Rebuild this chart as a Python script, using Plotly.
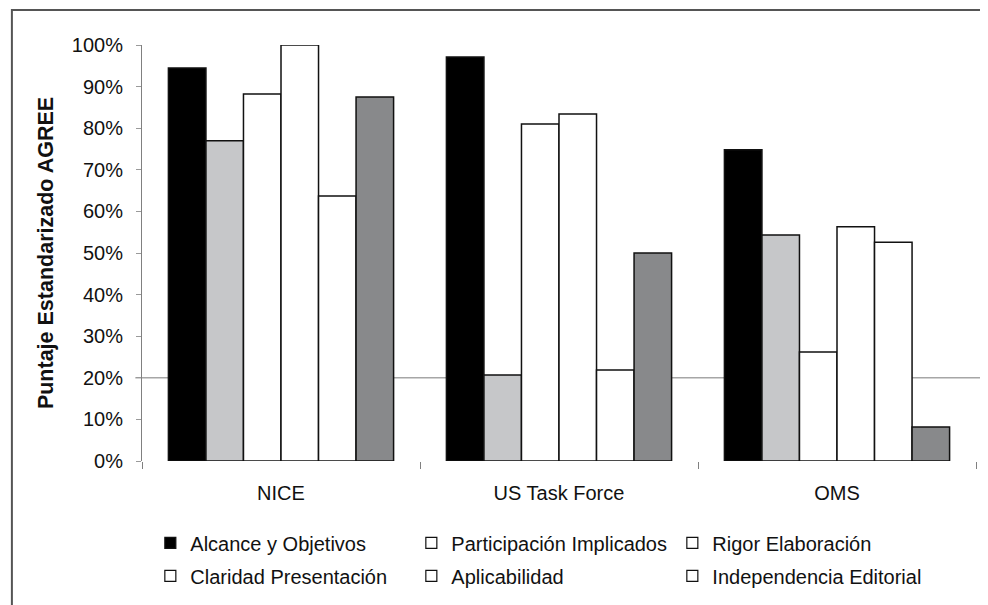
import plotly.graph_objects as go

categories = ["NICE", "US Task Force", "OMS"]
series_names = ["Alcance y Objetivos", "Participación Implicados", "Rigor Elaboración",
                "Claridad Presentación", "Aplicabilidad", "Independencia Editorial"]
alcance = [0.945, 0.971, 0.748]
participacion = [0.770, 0.207, 0.543]
rigor = [0.882, 0.810, 0.262]
claridad = [1.000, 0.834, 0.563]
aplicabilidad = [0.637, 0.219, 0.526]
independencia = [0.875, 0.500, 0.082]
values = [alcance, participacion, rigor, claridad, aplicabilidad, independencia]
reference_level = 0.20

bar_colors = ["#000000", "#c6c7c9", "#ffffff", "#ffffff", "#ffffff", "#88898b"]
legend_colors = ["#000000", "#ffffff", "#ffffff", "#ffffff", "#ffffff", "#ffffff"]

FONT = "Liberation Sans, Arial, sans-serif"

fig = go.Figure()
for name, vals, col in zip(series_names, values, bar_colors):
    fig.add_trace(go.Bar(
        x=categories, y=vals, name=name, showlegend=False,
        marker=dict(color=col, line=dict(color="#111111", width=1.5)),
    ))

for i, (name, col) in enumerate(zip(series_names, legend_colors)):
    fig.add_trace(go.Scatter(
        x=[None], y=[None], mode="markers", name=name,
        legend="legend" if i < 3 else "legend2",
        marker=dict(symbol="square", size=11, color=col,
                    line=dict(color="#111111", width=1.2)),
    ))

fig.add_shape(type="line", xref="paper", yref="y", x0=-0.008, x1=1.03,
              y0=reference_level, y1=reference_level,
              line=dict(color="#a6a6a6", width=1.5), layer="below")

# outer frame
fig.add_shape(type="rect", xref="paper", yref="paper",
              x0=-0.156, x1=1.2, y0=-0.6, y1=1.084,
              line=dict(color="#555555", width=2), fillcolor="rgba(0,0,0,0)")

legend_common = dict(orientation="h", xanchor="left", yanchor="middle",
                     font=dict(family=FONT, size=20, color="#111111"),
                     entrywidth=216, entrywidthmode="pixels",
                     bgcolor="rgba(0,0,0,0)", itemclick=False)

fig.update_layout(
    width=988, height=605,
    margin=dict(l=134, r=20, t=37, b=152),
    paper_bgcolor="white", plot_bgcolor="white",
    font=dict(family=FONT, size=20, color="#111111"),
    barmode="group", bargap=0.19, bargroupgap=0,
    legend=dict(x=0.01, y=-0.197, **legend_common),
    legend2=dict(x=0.01, y=-0.276, **legend_common),
    xaxis=dict(
        showgrid=False, showline=False, zeroline=False,
        ticks="outside", tickson="boundaries", ticklen=7, tickcolor="#808080",
        ticklabelstandoff=18,
        tickfont=dict(family=FONT, size=20, color="#111111"),
    ),
    yaxis=dict(
        range=[0, 1], dtick=0.1, tickformat=".0%",
        showgrid=False, zeroline=False,
        showline=True, linecolor="#808080", linewidth=1,
        ticks="outside", ticklen=5, tickcolor="#9a9a9a",
        ticklabelstandoff=9,
        tickfont=dict(family=FONT, size=20, color="#111111"),
        title=dict(text="<b>Puntaje Estandarizado AGREE</b>",
                   font=dict(family=FONT, size=21.5, color="#111111"), standoff=12),
    ),
)

fig.write_html("out.html")
